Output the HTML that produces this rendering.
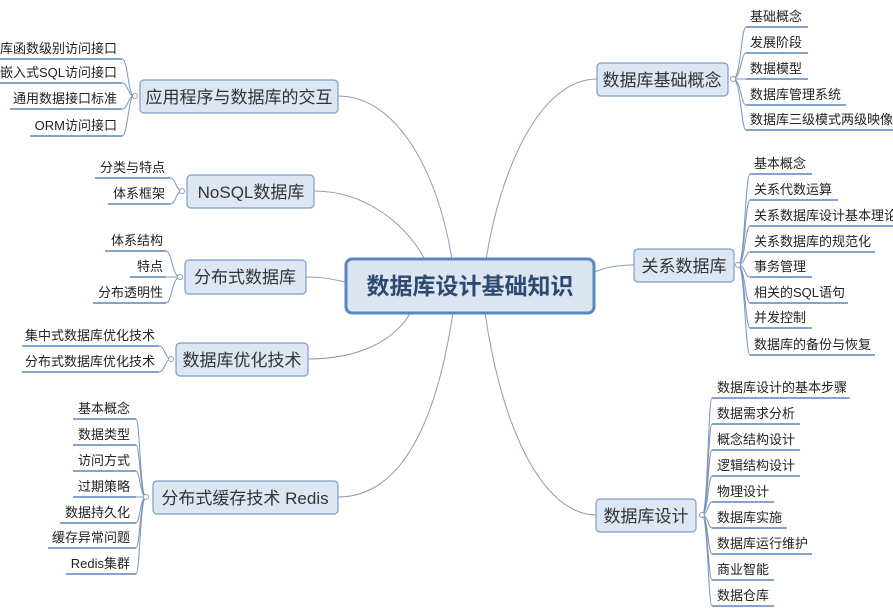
<!DOCTYPE html>
<html><head><meta charset="utf-8"><style>
html,body{margin:0;padding:0;background:#fff;}
svg{display:block;font-family:"Liberation Sans","Noto Sans CJK SC",sans-serif;}
.l{font-size:13px;fill:#222;}
.m{font-size:17px;fill:#333;}
.u{stroke:#5b86c0;stroke-width:1.6;fill:none;}
.b{stroke:#7d97ba;stroke-width:1;fill:none;}
.c{stroke:#8d9db3;stroke-width:1;fill:none;}
.bx{fill:#dde7f3;stroke:#7e9dc7;stroke-width:1.2;}
.ci{fill:#fff;stroke:#8d9db3;stroke-width:1;}
</style></head><body>
<svg width="893" height="608" viewBox="0 0 893 608" xmlns="http://www.w3.org/2000/svg">
<!-- main connectors -->
<path class="c" d="M338 96 C400 96 440 180 452 260"/>
<path class="c" d="M314 191 C370 191 410 230 425 260"/>
<path class="c" d="M306 277 C325 277 335 280 346 282"/>
<path class="c" d="M308 359 C360 359 395 340 411 312"/>
<path class="c" d="M338 497 C410 497 440 400 453 312"/>
<path class="c" d="M597 79 C540 79 500 170 486 260"/>
<path class="c" d="M634 265 C615 265 605 268 594 272"/>
<path class="c" d="M597 515 C540 515 500 420 485 312"/>

<!-- center -->
<rect x="346" y="259" width="248" height="54" rx="6" fill="#dce6f2" stroke="#5b86c0" stroke-width="3"/>
<text x="470" y="294" text-anchor="middle" font-size="23" font-weight="bold" fill="#2e4a72">数据库设计基础知识</text>

<!-- main boxes -->
<rect class="bx" x="140" y="80" width="198" height="33" rx="4"/><text class="m" x="239" y="103" text-anchor="middle">应用程序与数据库的交互</text>
<rect class="bx" x="187" y="175" width="127" height="33" rx="4"/><text class="m" x="251" y="198" text-anchor="middle">NoSQL数据库</text>
<rect class="bx" x="185" y="260" width="121" height="34" rx="4"/><text class="m" x="245" y="283" text-anchor="middle">分布式数据库</text>
<rect class="bx" x="176" y="343" width="132" height="33" rx="4"/><text class="m" x="242" y="366" text-anchor="middle">数据库优化技术</text>
<rect class="bx" x="153" y="481" width="185" height="33" rx="4"/><text class="m" x="245" y="504" text-anchor="middle">分布式缓存技术 Redis</text>
<rect class="bx" x="597" y="63" width="131" height="33" rx="4"/><text class="m" x="662" y="86" text-anchor="middle">数据库基础概念</text>
<rect class="bx" x="634" y="249" width="100" height="33" rx="4"/><text class="m" x="684" y="272" text-anchor="middle">关系数据库</text>
<rect class="bx" x="596" y="499" width="100" height="33" rx="4"/><text class="m" x="646" y="522" text-anchor="middle">数据库设计</text>

<!-- Left group A -->
<g>
<path class="b" d="M134 96 C128 96 128 59 122 59 M134 96 C128 96 128 83 122 83 M134 96 C128 96 128 109 122 109 M134 96 C128 96 128 136 122 136"/>
<line class="u" x1="0" y1="59" x2="122" y2="59"/><text class="l" x="117" y="53" text-anchor="end">库函数级别访问接口</text>
<line class="u" x1="0" y1="83" x2="122" y2="83"/><text class="l" x="117" y="77" text-anchor="end">嵌入式SQL访问接口</text>
<line class="u" x1="10" y1="109" x2="122" y2="109"/><text class="l" x="117" y="103" text-anchor="end">通用数据接口标准</text>
<line class="u" x1="30" y1="136" x2="122" y2="136"/><text class="l" x="117" y="130" text-anchor="end">ORM访问接口</text>
<circle class="ci" cx="135" cy="96" r="2.5"/>
</g>
<!-- B NoSQL -->
<g>
<path class="b" d="M182 191 C176 191 176 178 170 178 M182 191 C176 191 176 204 170 204"/>
<line class="u" x1="95" y1="178" x2="170" y2="178"/><text class="l" x="165" y="172" text-anchor="end">分类与特点</text>
<line class="u" x1="108" y1="204" x2="170" y2="204"/><text class="l" x="165" y="198" text-anchor="end">体系框架</text>
<circle class="ci" cx="182" cy="191" r="2.5"/>
</g>
<!-- C -->
<g>
<path class="b" d="M180 277 C172 277 172 251 166 251 M180 277 L166 277 M180 277 C172 277 172 303 166 303"/>
<line class="u" x1="105" y1="251" x2="166" y2="251"/><text class="l" x="163" y="245" text-anchor="end">体系结构</text>
<line class="u" x1="130" y1="277" x2="166" y2="277"/><text class="l" x="163" y="271" text-anchor="end">特点</text>
<line class="u" x1="93" y1="303" x2="166" y2="303"/><text class="l" x="163" y="297" text-anchor="end">分布透明性</text>
<circle class="ci" cx="180" cy="277" r="2.5"/>
</g>
<!-- D -->
<g>
<path class="b" d="M171 359 C165 359 165 346 159 346 M171 359 C165 359 165 372 159 372"/>
<line class="u" x1="22" y1="346" x2="159" y2="346"/><text class="l" x="155" y="340" text-anchor="end">集中式数据库优化技术</text>
<line class="u" x1="22" y1="372" x2="159" y2="372"/><text class="l" x="155" y="366" text-anchor="end">分布式数据库优化技术</text>
<circle class="ci" cx="171" cy="359" r="2.5"/>
</g>
<!-- E Redis -->
<g>
<path class="b" d="M146 497 C140 497 140 419 136 419 M146 497 C140 497 140 445 136 445 M146 497 C140 497 140 471 136 471 M146 497 L136 497 M146 497 C140 497 140 523 136 523 M146 497 C140 497 140 548 136 548 M146 497 C140 497 140 574 136 574"/>
<line class="u" x1="73" y1="419" x2="136" y2="419"/><text class="l" x="130" y="413" text-anchor="end">基本概念</text>
<line class="u" x1="73" y1="445" x2="136" y2="445"/><text class="l" x="130" y="439" text-anchor="end">数据类型</text>
<line class="u" x1="73" y1="471" x2="136" y2="471"/><text class="l" x="130" y="465" text-anchor="end">访问方式</text>
<line class="u" x1="73" y1="497" x2="136" y2="497"/><text class="l" x="130" y="491" text-anchor="end">过期策略</text>
<line class="u" x1="60" y1="523" x2="136" y2="523"/><text class="l" x="130" y="517" text-anchor="end">数据持久化</text>
<line class="u" x1="48" y1="548" x2="136" y2="548"/><text class="l" x="130" y="542" text-anchor="end">缓存异常问题</text>
<line class="u" x1="66" y1="574" x2="136" y2="574"/><text class="l" x="130" y="568" text-anchor="end">Redis集群</text>
<circle class="ci" cx="146" cy="497" r="2.5"/>
</g>
<!-- F 基础 -->
<g>
<path class="b" d="M733 79 C741 79 741 27 746 27 M733 79 C741 79 741 53 746 53 M733 79 L746 79 M733 79 C741 79 741 105 746 105 M733 79 C741 79 741 130 746 130"/>
<line class="u" x1="746" y1="27" x2="808" y2="27"/><text class="l" x="750" y="21">基础概念</text>
<line class="u" x1="746" y1="53" x2="808" y2="53"/><text class="l" x="750" y="47">发展阶段</text>
<line class="u" x1="746" y1="79" x2="808" y2="79"/><text class="l" x="750" y="73">数据模型</text>
<line class="u" x1="746" y1="105" x2="846" y2="105"/><text class="l" x="750" y="99">数据库管理系统</text>
<line class="u" x1="746" y1="130" x2="893" y2="130"/><text class="l" x="750" y="124">数据库三级模式两级映像</text>
<circle class="ci" cx="733" cy="79" r="2.5"/>
</g>
<!-- G 关系 -->
<g>
<path class="b" d="M738 265 C745 265 745 174 750 174 M738 265 C745 265 745 200 750 200 M738 265 C745 265 745 226 750 226 M738 265 C745 265 745 252 750 252 M738 265 C745 265 745 277 750 277 M738 265 C745 265 745 303 750 303 M738 265 C745 265 745 328 750 328 M738 265 C745 265 745 355 750 355"/>
<line class="u" x1="750" y1="174" x2="812" y2="174"/><text class="l" x="754" y="168">基本概念</text>
<line class="u" x1="750" y1="200" x2="838" y2="200"/><text class="l" x="754" y="194">关系代数运算</text>
<line class="u" x1="750" y1="226" x2="893" y2="226"/><text class="l" x="754" y="220">关系数据库设计基本理论</text>
<line class="u" x1="750" y1="252" x2="875" y2="252"/><text class="l" x="754" y="246">关系数据库的规范化</text>
<line class="u" x1="750" y1="277" x2="812" y2="277"/><text class="l" x="754" y="271">事务管理</text>
<line class="u" x1="750" y1="303" x2="848" y2="303"/><text class="l" x="754" y="297">相关的SQL语句</text>
<line class="u" x1="750" y1="328" x2="812" y2="328"/><text class="l" x="754" y="322">并发控制</text>
<line class="u" x1="750" y1="355" x2="875" y2="355"/><text class="l" x="754" y="349">数据库的备份与恢复</text>
<circle class="ci" cx="738" cy="265" r="2.5"/>
</g>
<!-- H 设计 -->
<g>
<path class="b" d="M702 515 C708 515 708 398 712 398 M702 515 C708 515 708 424 712 424 M702 515 C708 515 708 450 712 450 M702 515 C708 515 708 476 712 476 M702 515 C708 515 708 502 712 502 M702 515 C708 515 708 528 712 528 M702 515 C708 515 708 554 712 554 M702 515 C708 515 708 580 712 580 M702 515 C708 515 708 606 712 606"/>
<line class="u" x1="712" y1="398" x2="850" y2="398"/><text class="l" x="717" y="392">数据库设计的基本步骤</text>
<line class="u" x1="712" y1="424" x2="800" y2="424"/><text class="l" x="717" y="418">数据需求分析</text>
<line class="u" x1="712" y1="450" x2="800" y2="450"/><text class="l" x="717" y="444">概念结构设计</text>
<line class="u" x1="712" y1="476" x2="800" y2="476"/><text class="l" x="717" y="470">逻辑结构设计</text>
<line class="u" x1="712" y1="502" x2="774" y2="502"/><text class="l" x="717" y="496">物理设计</text>
<line class="u" x1="712" y1="528" x2="787" y2="528"/><text class="l" x="717" y="522">数据库实施</text>
<line class="u" x1="712" y1="554" x2="812" y2="554"/><text class="l" x="717" y="548">数据库运行维护</text>
<line class="u" x1="712" y1="580" x2="774" y2="580"/><text class="l" x="717" y="574">商业智能</text>
<line class="u" x1="712" y1="606" x2="774" y2="606"/><text class="l" x="717" y="600">数据仓库</text>
<circle class="ci" cx="702" cy="515" r="2.5"/>
</g>
</svg>
</body></html>
